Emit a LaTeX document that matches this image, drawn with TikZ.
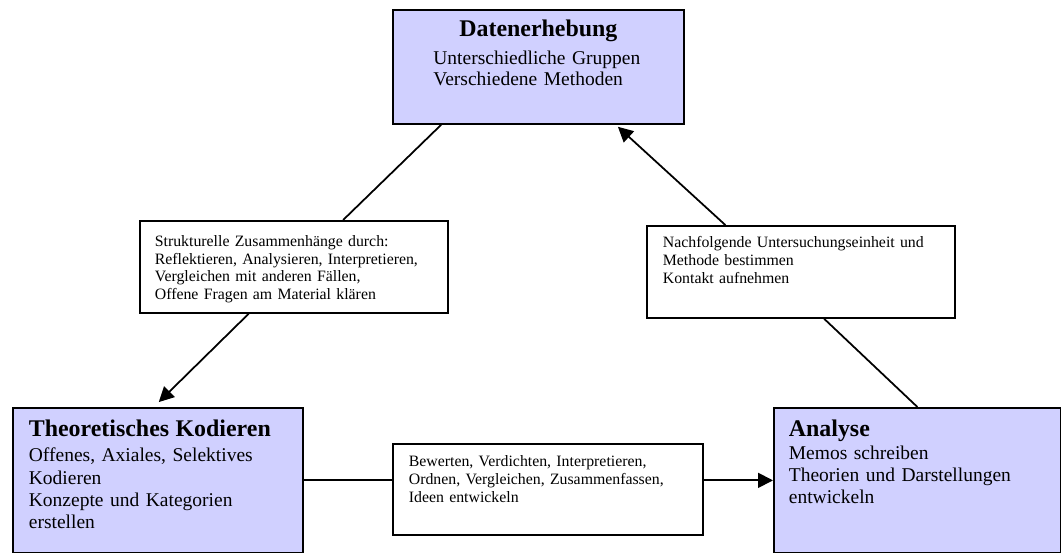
\documentclass[tikz,border=0pt]{standalone}
\usepackage{fontspec}
\setmainfont{Liberation Serif}
\usetikzlibrary{calc,arrows.meta}

\definecolor{lavendel}{RGB}{208,208,255}
\newcommand\titelschrift{\fontsize{13.6}{16}\selectfont\bfseries}
\newcommand\textschrift{\fontsize{11.1}{12.7}\selectfont}
\newcommand\kleinschrift{\fontsize{9}{10.1}\selectfont}

\tikzset{
  kasten/.style={draw, line width=1pt, fill=lavendel, anchor=north west, align=left, inner ysep=0pt, font=\textschrift},
  notiz/.style={draw, line width=1pt, fill=white, anchor=north west, align=left, inner ysep=0pt, font=\kleinschrift},
  linie/.style={line width=1pt},
  pfeil/.style={linie, -{Triangle[length=3mm,width=3mm]}}
}

\begin{document}
\begin{tikzpicture}

\useasboundingbox (0,0) rectangle (21.22,11.06);

%BOXES
% top
\node[kasten, inner xsep=0.81cm, text width=4.2cm, text height=0.54cm, text depth=1.74cm] (daten) at (7.84,10.88)
  {\makebox[\linewidth]{\titelschrift Datenerhebung}\\[3.2pt]
   Unterschiedliche Gruppen\\[-1.2pt]
   Verschiedene Methoden};
% left
\node[kasten, inner xsep=0.32cm, text width=5.16cm, text height=0.58cm, text depth=2.32cm] (theo) at (0.24,2.92)
  {{\titelschrift Theoretisches Kodieren}\\[1.5pt]
   Offenes, Axiales, Selektives\\
   Kodieren\\
   Konzepte und Kategorien\\
   erstellen};
% right
\node[kasten, inner xsep=0.3cm, text width=5.14cm, text height=0.58cm, text depth=2.32cm] (analyse) at (15.46,2.92)
  {{\titelschrift Analyse}\\
   Memos schreiben\\
   Theorien und Darstellungen\\
   entwickeln};

%LABELS
\node[notiz, inner xsep=0.3cm, text width=5.56cm, text height=0.51cm, text depth=1.33cm] (struktur) at (2.78,6.66)
  {Strukturelle Zusammenh\"ange durch:\\
   Reflektieren, Analysieren, Interpretieren,\\
   Vergleichen mit anderen F\"allen,\\
   Offene Fragen am Material kl\"aren};
\node[notiz, inner xsep=0.32cm, text width=5.52cm, text height=0.44cm, text depth=1.40cm] (nachfolge) at (12.92,6.56)
  {Nachfolgende Untersuchungseinheit und\\
   Methode bestimmen\\
   Kontakt aufnehmen};
\node[notiz, inner xsep=0.32cm, text width=5.56cm, text height=0.46cm, text depth=1.36cm] (bewertung) at (7.84,2.20)
  {Bewerten, Verdichten, Interpretieren,\\
   Ordnen, Vergleichen, Zusammenfassen,\\
   Ideen entwickeln};

%CONNECTIONS
% left side
\draw[linie] ($(daten.south west)!0.168!(daten.south east)$) -- ($(struktur.north west)!0.659!(struktur.north east)$);
\draw[pfeil, shorten >=0.14cm] ($(struktur.south west)!0.354!(struktur.south east)$) -- ($(theo.north west)!0.486!(theo.north east)$);
% bottom
\draw[linie] (theo.east) -- (theo.east -| bewertung.west);
\draw[pfeil] (bewertung.east |- analyse.west) -- (analyse.west);
% right side
\draw[linie] (analyse.north) -- ($(nachfolge.south west)!0.575!(nachfolge.south east)$);
\draw[pfeil, shorten >=0.06cm] ($(nachfolge.north west)!0.256!(nachfolge.north east)$) -- ($(daten.south west)!0.764!(daten.south east)$);

\end{tikzpicture}
\end{document}
